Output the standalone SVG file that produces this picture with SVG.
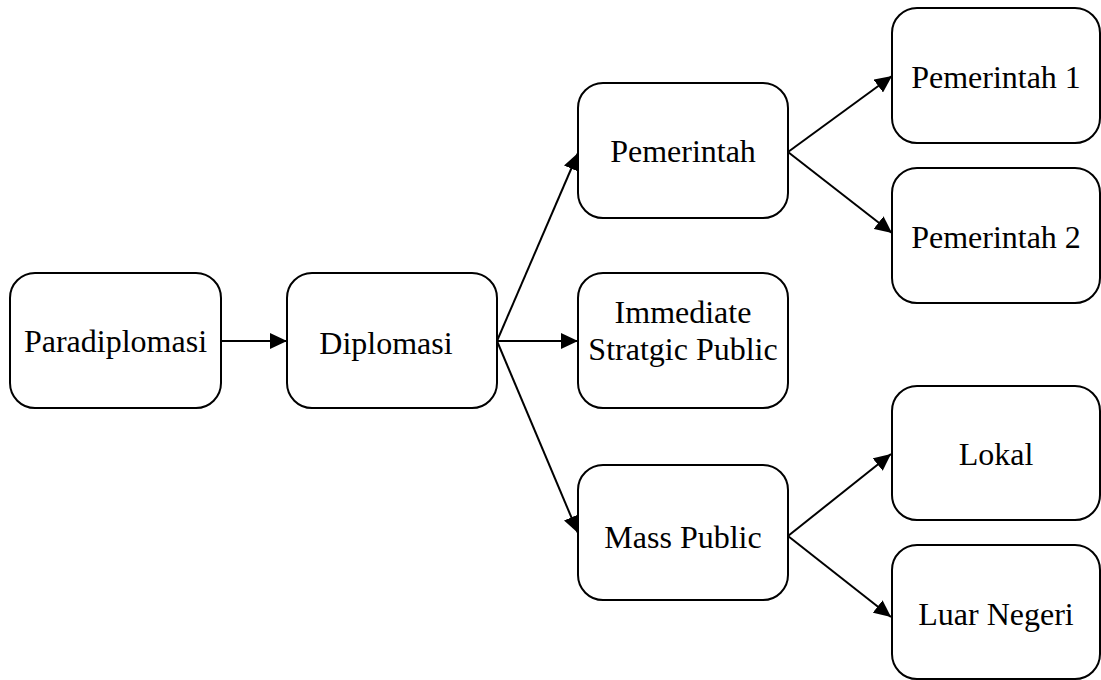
<svg xmlns="http://www.w3.org/2000/svg" width="1101" height="680" viewBox="0 0 1101 680">
<style>
.box{fill:#fff;stroke:#000;stroke-width:2}
.t{font-family:"Liberation Serif","Times New Roman",serif;font-size:32px;fill:#000;text-anchor:middle}
.c{stroke:#000;stroke-width:2;fill:none;marker-end:url(#ah)}
</style>
<defs>
<marker id="ah" markerUnits="userSpaceOnUse" markerWidth="18" markerHeight="16" refX="17" refY="8" orient="auto">
<path d="M0,0 L17,8 L0,16 Z" fill="#000"/>
</marker>
</defs>
<rect width="1101" height="680" fill="#fff"/>
<g id="connectors">
<line class="c" x1="221" y1="341" x2="287" y2="341"/>
<line class="c" x1="497" y1="341" x2="578" y2="153"/>
<line class="c" x1="497" y1="341" x2="578" y2="341"/>
<line class="c" x1="497" y1="341" x2="578" y2="533"/>
<line class="c" x1="788" y1="152" x2="892" y2="76"/>
<line class="c" x1="788" y1="152" x2="892" y2="233"/>
<line class="c" x1="788" y1="536" x2="891" y2="454"/>
<line class="c" x1="788" y1="536" x2="891" y2="617"/>
</g>
<g id="n-paradiplomasi"><rect class="box" x="10" y="273" width="211" height="135" rx="25"/><text class="t" x="115.5" y="352">Paradiplomasi</text></g>
<g id="n-diplomasi"><rect class="box" x="287" y="273" width="210" height="135" rx="25"/><text class="t" x="386" y="354">Diplomasi</text></g>
<g id="n-pemerintah"><rect class="box" x="578" y="83" width="210" height="135" rx="25"/><text class="t" x="683" y="162">Pemerintah</text></g>
<g id="n-immediate"><rect class="box" x="578" y="273" width="210" height="135" rx="25"/><text class="t" x="683" y="323">Immediate</text><text class="t" x="683" y="360">Stratgic Public</text></g>
<g id="n-mass"><rect class="box" x="578" y="465" width="210" height="135" rx="25"/><text class="t" x="683" y="548">Mass Public</text></g>
<g id="n-pemerintah1"><rect class="box" x="892" y="8" width="208" height="135" rx="25"/><text class="t" x="996" y="88">Pemerintah 1</text></g>
<g id="n-pemerintah2"><rect class="box" x="892" y="168" width="208" height="135" rx="25"/><text class="t" x="996" y="248">Pemerintah 2</text></g>
<g id="n-lokal"><rect class="box" x="892" y="386" width="208" height="134" rx="25"/><text class="t" x="996" y="465">Lokal</text></g>
<g id="n-luar"><rect class="box" x="892" y="545" width="208" height="134" rx="25"/><text class="t" x="996" y="625">Luar Negeri</text></g>
</svg>
